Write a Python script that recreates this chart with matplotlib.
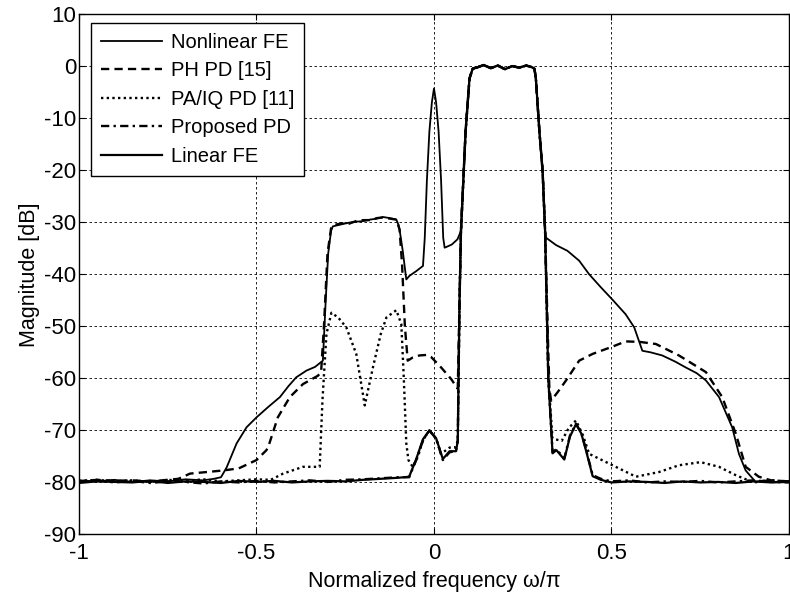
import numpy as np
import matplotlib
matplotlib.use("Agg")
import matplotlib.pyplot as plt

plt.rcParams['font.family'] = ['Liberation Sans', 'DejaVu Sans']
plt.rcParams['axes.unicode_minus'] = False

# ---- shared main band (all curves coincide) ----
band_f = [0.072, 0.076, 0.089, 0.100, 0.109, 0.12, 0.14, 0.16, 0.18, 0.20, 0.22, 0.24,
          0.26, 0.275, 0.283, 0.287, 0.297, 0.306, 0.313]
band_db = [-45.0, -31.7, -12.6, -2.4, -0.5, -0.3, 0.2, -0.4, 0.1, -0.6, 0.0, -0.3,
           0.1, -0.2, -0.5, -2.4, -12.6, -20.2, -31.7]

# ---- Nonlinear FE ----
nl_left_f = [-1.0, -0.95, -0.9, -0.85, -0.8, -0.75, -0.7, -0.65, -0.62, -0.60, -0.594,
             -0.584, -0.556, -0.528, -0.50, -0.467, -0.434, -0.41, -0.388, -0.359,
             -0.335, -0.313, -0.305, -0.298, -0.29, -0.285, -0.26, -0.24, -0.22, -0.20,
             -0.18, -0.16, -0.144, -0.125, -0.106, -0.100, -0.097, -0.088, -0.078,
             -0.069, -0.05, -0.031, -0.026, -0.020, -0.013, -0.006, 0.0, 0.006, 0.013,
             0.020, 0.026, 0.030, 0.05, 0.066]
nl_left_db = [-79.6, -79.8, -79.5, -79.9, -79.6, -79.8, -79.4, -79.6, -79.3, -79.0, -78.3,
              -77.1, -72.5, -69.4, -67.5, -65.5, -63.6, -61.5, -59.8, -58.5,
              -57.8, -56.6, -45.0, -36.0, -31.7, -30.8, -30.4, -30.1, -29.9, -29.8,
              -29.5, -29.3, -29.0, -29.2, -29.5, -30.5, -31.4, -35.5, -41.0,
              -40.3, -39.4, -38.4, -33.0, -22.0, -12.6, -7.0, -4.3, -7.0, -12.6,
              -22.0, -33.0, -34.9, -34.3, -33.3]
nl_right_f = [0.316, 0.344, 0.376, 0.409, 0.437, 0.47, 0.503, 0.54, 0.564, 0.587, 0.61,
              0.643, 0.68, 0.709, 0.74, 0.766, 0.803, 0.84, 0.859, 0.878, 0.906, 0.93,
              0.96, 1.0]
nl_right_db = [-33.0, -34.4, -35.5, -37.4, -40.0, -42.5, -44.9, -47.7, -50.2, -54.7, -55.0,
               -55.6, -56.8, -57.9, -59.0, -60.4, -63.6, -69.4, -74.5, -77.7, -79.9, -79.6,
               -79.9, -79.7]

# ---- PH PD [15] ----
ph_left_f = [-1.0, -0.95, -0.9, -0.85, -0.8, -0.75, -0.72, -0.687, -0.64, -0.594, -0.55,
             -0.50, -0.472, -0.467, -0.44, -0.406, -0.378, -0.369, -0.327, -0.318, -0.31,
             -0.30, -0.29, -0.285, -0.26, -0.24, -0.22, -0.20, -0.18, -0.16, -0.144,
             -0.125, -0.106, -0.097, -0.09, -0.082, -0.074, -0.06, -0.041, -0.02,
             -0.008, 0.02, 0.048, 0.067]
ph_left_db = [-79.8, -79.5, -79.7, -79.6, -79.8, -79.5, -79.3, -78.3, -78.0, -77.7, -77.3,
              -75.7, -73.8, -73.2, -67.5, -63.6, -61.7, -61.1, -59.5, -58.8, -50.0,
              -36.0, -31.2, -30.6, -30.2, -30.3, -29.8, -29.6, -29.6, -29.2, -29.1,
              -29.3, -29.5, -31.4, -38.0, -50.0, -56.6, -56.0, -55.6, -55.5,
              -55.9, -57.9, -60.1, -62.0]
ph_right_f = [0.32, 0.325, 0.33, 0.35, 0.372, 0.409, 0.447, 0.503, 0.54, 0.58, 0.625,
              0.69, 0.766, 0.812, 0.85, 0.878, 0.915, 0.95, 1.0]
ph_right_db = [-50.0, -62.0, -64.3, -62.5, -60.4, -56.6, -55.3, -53.9, -52.9, -53.0, -53.4,
               -55.6, -58.8, -63.6, -70.6, -77.0, -78.9, -79.6, -79.8]

# ---- PA/IQ PD [11] ----
pa_left_f = [-1.0, -0.95, -0.9, -0.85, -0.8, -0.75, -0.7, -0.65, -0.6, -0.55, -0.5,
             -0.46, -0.425, -0.369, -0.322, -0.314, -0.303, -0.289, -0.27, -0.247,
             -0.219, -0.195, -0.172, -0.15, -0.134, -0.106, -0.092, -0.085, -0.078,
             -0.072, -0.06, -0.045, -0.031, -0.013, 0.006, 0.02, 0.044, 0.06, 0.067]
pa_left_db = [-79.7, -79.5, -79.8, -79.6, -79.9, -79.5, -79.7, -79.4, -79.8, -79.6, -79.4,
              -79.5, -78.3, -77.0, -77.0, -64.0, -51.5, -47.4, -48.3, -50.2,
              -55.3, -65.2, -57.9, -51.5, -48.3, -46.9, -49.6, -60.0, -72.5,
              -75.7, -77.0, -75.0, -71.9, -70.0, -71.6, -74.5, -73.3, -73.3, -72.0]
pa_right_f = [0.322, 0.334, 0.36, 0.38, 0.40, 0.42, 0.437, 0.503, 0.569, 0.634, 0.69,
              0.751, 0.803, 0.85, 0.9, 0.95, 1.0]
pa_right_db = [-60.0, -71.6, -72.0, -69.5, -68.1, -71.0, -74.5, -76.7, -78.9, -78.0, -76.7,
               -76.1, -77.0, -78.6, -80.0, -79.6, -79.8]

# ---- Proposed PD ----
pr_left_f = [-1.0, -0.95, -0.9, -0.85, -0.8, -0.75, -0.7, -0.65, -0.6, -0.55, -0.5,
             -0.45, -0.4, -0.35, -0.3, -0.25, -0.2, -0.15, -0.1, -0.07, -0.05, -0.031,
             -0.013, 0.006, 0.025, 0.044, 0.062, 0.067]
pr_left_db = [-79.9, -79.6, -80.0, -79.7, -80.1, -79.8, -79.9, -80.2, -79.8, -80.0, -79.7,
              -80.0, -79.8, -79.6, -79.9, -79.5, -79.4, -79.2, -79.0, -79.0, -75.7, -71.9,
              -70.0, -71.6, -75.7, -74.2, -74.0, -72.0]
pr_right_f = [0.322, 0.334, 0.345, 0.367, 0.383, 0.40, 0.415, 0.428, 0.447, 0.47, 0.5,
              0.55, 0.6, 0.65, 0.7, 0.75, 0.8, 0.85, 0.9, 0.95, 1.0]
pr_right_db = [-60.0, -74.2, -73.6, -75.4, -71.0, -68.7, -70.5, -73.6, -78.6, -79.3, -79.8,
               -79.6, -80.0, -79.8, -79.9, -79.7, -80.0, -79.8, -79.6, -79.9, -80.0]

# ---- Linear FE ----
li_left_f = [-1.0, -0.95, -0.9, -0.85, -0.8, -0.75, -0.7, -0.65, -0.6, -0.55, -0.5,
             -0.45, -0.4, -0.35, -0.3, -0.25, -0.2, -0.15, -0.1, -0.07, -0.05, -0.031,
             -0.013, 0.006, 0.025, 0.044, 0.062, 0.067]
li_left_db = [-80.1, -79.8, -79.9, -80.0, -79.7, -80.1, -79.8, -79.9, -80.1, -79.7, -79.9,
              -79.7, -80.0, -79.8, -79.7, -79.8, -79.5, -79.3, -79.1, -78.9, -75.5, -71.7,
              -70.0, -71.5, -75.5, -74.0, -74.0, -72.0]
li_right_f = [0.322, 0.334, 0.345, 0.367, 0.383, 0.40, 0.415, 0.428, 0.447, 0.47, 0.5,
              0.55, 0.6, 0.65, 0.7, 0.75, 0.8, 0.85, 0.9, 0.95, 1.0]
li_right_db = [-60.0, -74.4, -73.8, -75.6, -71.2, -68.8, -70.6, -73.8, -78.8, -79.5, -80.0,
               -79.8, -79.9, -80.1, -79.8, -80.0, -79.9, -80.1, -79.8, -80.0, -79.9]

labels = ['Nonlinear FE', 'PH PD [15]', 'PA/IQ PD [11]', 'Proposed PD', 'Linear FE']
xticks = [-1, -0.5, 0, 0.5, 1]
xtick_labels = ['-1', '-0.5', '0', '0.5', '1']
yticks = list(range(-90, 11, 10))


def curve(lf, ldb, rf, rdb):
    f = list(lf) + list(band_f) + list(rf)
    d = list(ldb) + list(band_db) + list(rdb)
    return f, d


fig = plt.figure(figsize=(7.90, 5.99), dpi=100)
ax = fig.add_axes([0.100, 0.1077, 0.8987, 0.8689])

nl_f = list(nl_left_f) + band_f[1:] + nl_right_f
nl_d = list(nl_left_db) + band_db[1:] + nl_right_db
ph_f, ph_d = curve(ph_left_f, ph_left_db, ph_right_f, ph_right_db)
pa_f, pa_d = curve(pa_left_f, pa_left_db, pa_right_f, pa_right_db)
pr_f, pr_d = curve(pr_left_f, pr_left_db, pr_right_f, pr_right_db)
li_f, li_d = curve(li_left_f, li_left_db, li_right_f, li_right_db)

ax.plot(nl_f, nl_d, color='black', lw=1.3, ls='-', label=labels[0])
ax.plot(ph_f, ph_d, color='black', lw=1.7, ls=(0, (3.5, 2.2)), label=labels[1])
ax.plot(pa_f, pa_d, color='black', lw=1.7, ls=(0, (1, 1.4)), label=labels[2])
ax.plot(pr_f, pr_d, color='black', lw=1.7, ls=(0, (3.5, 1.8, 1, 1.8)), label=labels[3])
ax.plot(li_f, li_d, color='black', lw=1.6, ls='-', label=labels[4])

TICK_FS = 16
LABEL_FS = 15.5
LEG_FS = 14.5
ax.set_xlim(-1, 1)
ax.set_ylim(-90, 10)
ax.set_xticks(xticks)
ax.set_xticklabels(xtick_labels)
ax.set_yticks(yticks)
ax.tick_params(direction='in', top=True, right=True, labelsize=TICK_FS, length=4,
               width=0.8)
ax.tick_params(axis='x', pad=6)
ax.tick_params(axis='y', pad=2)
ax.grid(True, color='black', lw=0.6, ls=(0, (3, 3)))
for s in ax.spines.values():
    s.set_linewidth(1.0)

ax.set_xlabel('Normalized frequency ω/π', fontsize=LABEL_FS, labelpad=5)
ax.set_ylabel('Magnitude [dB]', fontsize=LABEL_FS, labelpad=3)

leg = ax.legend(loc='upper left', bbox_to_anchor=(0.0175, 0.983), fontsize=LEG_FS,
                frameon=True, fancybox=False, framealpha=1, edgecolor='black',
                handlelength=3.0, labelspacing=0.47, borderpad=0.5, handletextpad=0.45,
                borderaxespad=0.0)
leg.get_frame().set_linewidth(1.0)

fig.savefig('out.png', dpi=100)
